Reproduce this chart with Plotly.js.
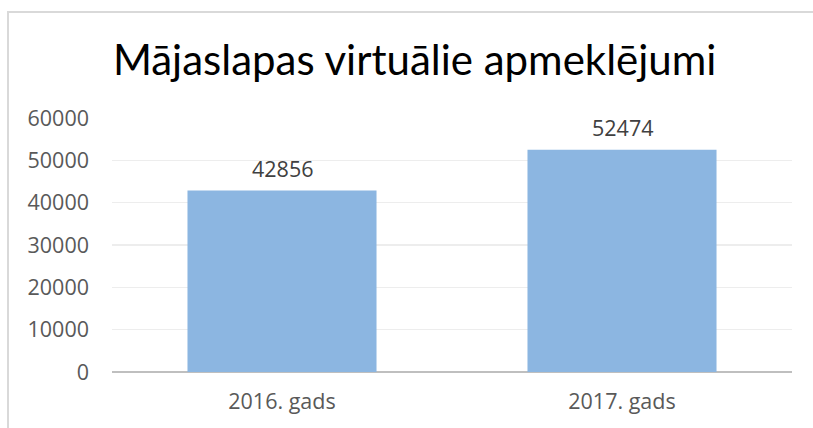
<!DOCTYPE html>
<html><head><meta charset="utf-8">
<script src="https://cdn.plot.ly/plotly-3.0.1.min.js"></script>
<style>
html,body{margin:0;padding:0;width:813px;height:428px;overflow:hidden;background:#fff;}
#frame{position:absolute;left:7px;top:11px;width:900px;height:500px;border:2px solid #D9D9D9;box-sizing:border-box;}
#chart{position:absolute;left:0;top:0;width:813px;height:428px;}
</style></head>
<body>
<div id="frame"></div>
<div id="chart"></div>
<script>
const categories = ["2016. gads", "2017. gads"];
const visits = [42856, 52474];
const yTicks = [0, 10000, 20000, 30000, 40000, 50000, 60000];

const labelFont = {family: 'Open Sans, sans-serif', size: 21.5, color: '#404040'};

Plotly.newPlot('chart', [{
  type: 'bar',
  x: categories,
  y: visits,
  marker: {color: '#8CB6E1'},
  hoverinfo: 'none'
}], {
  width: 813, height: 428,
  margin: {l: 112, r: 21, t: 118, b: 56, pad: 0},
  paper_bgcolor: 'rgba(0,0,0,0)',
  plot_bgcolor: 'rgba(0,0,0,0)',
  bargap: 0.444,
  showlegend: false,
  title: {text: 'Mājaslapas virtuālie apmeklējumi', x: 0.51, xanchor: 'center', y: 0.86, yanchor: 'middle',
          font: {family: 'Lato, Carlito, Calibri, sans-serif', size: 42, color: '#000'}},
  annotations: categories.map((c, i) => ({
    x: c, y: visits[i], xref: 'x', yref: 'y', text: String(visits[i]),
    showarrow: false, yanchor: 'bottom', yshift: 6, font: labelFont
  })),
  xaxis: {showgrid: false, zeroline: false, showline: false, ticks: '',
          ticklabelstandoff: 14,
          tickfont: {family: 'Open Sans, sans-serif', size: 21.5, color: '#595959'}, fixedrange: true},
  yaxis: {range: [0, 60000], tickvals: yTicks, ticktext: yTicks.map(String),
          showgrid: true, gridcolor: '#EDEDED', gridwidth: 1.5,
          zeroline: true, zerolinecolor: '#BFBFBF', zerolinewidth: 2.5, showline: false, ticks: '',
          ticklabelstandoff: 22,
          tickfont: {family: 'Open Sans, sans-serif', size: 21.5, color: '#595959'}, fixedrange: true}
}, {displayModeBar: false, staticPlot: true});
</script>
</body></html>
